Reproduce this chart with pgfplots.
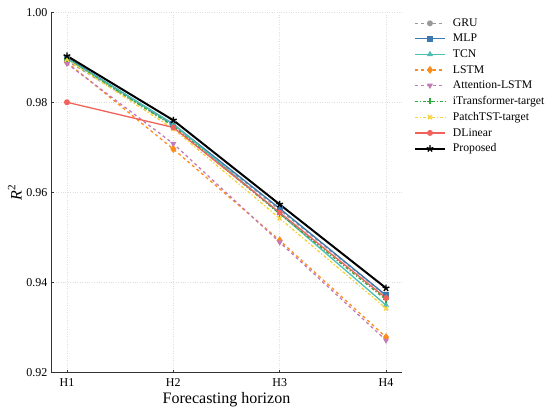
\documentclass[border=0pt]{standalone}
\usepackage{pgfplots}
\pgfplotsset{compat=1.18}
\usepackage{fontspec}
\setmainfont{Liberation Serif}
\definecolor{cGRU}{HTML}{999999}
\definecolor{cMLP}{HTML}{3D78B0}
\definecolor{cTCN}{HTML}{4DBEB5}
\definecolor{cLSTM}{HTML}{FF8C1A}
\definecolor{cATT}{HTML}{C27BB5}
\definecolor{cIT}{HTML}{2CA83C}
\definecolor{cPT}{HTML}{F7D13D}
\definecolor{cDL}{HTML}{F0625B}
\definecolor{spine}{HTML}{333333}
\begin{document}
\begin{tikzpicture}
\begin{axis}[
  scale only axis, width=351pt, height=360pt,
  xmin=-0.15, xmax=3.15, ymin=0.92, ymax=1.00,
  xtick={0,1,2,3}, xticklabels={H1,H2,H3,H4},
  ytick={0.92,0.94,0.96,0.98,1.00},
  yticklabel style={/pgf/number format/.cd,fixed,fixed zerofill,precision=2,assume math mode=true},
  scaled y ticks=false,
  axis x line*=bottom, axis y line*=left,
  axis line style={spine, line width=0.9pt, -},
  tick align=inside, major tick length=3pt,
  tick style={spine, line width=0.7pt},
  grid=major, grid style={dotted, black!13, line width=0.6pt},
  ticklabel style={font=\fontsize{12}{14}\selectfont},
  xticklabel style={yshift=-2pt},
  xlabel={Forecasting horizon}, ylabel={\textit{R}\textsuperscript{2}},
  label style={font=\fontsize{16}{18}\selectfont},
  xlabel style={yshift=1pt}, ylabel style={yshift=-2pt},
  legend style={at={(1.025,0.995)}, anchor=north west, draw=none, fill=none,
    font=\fontsize{11.7}{13}\selectfont, row sep=2.3pt, cells={anchor=west},
    /tikz/every odd column/.append style={column sep=5pt}},
  legend image code/.code={\draw[mark repeat=2,mark phase=2] plot coordinates {(0pt,0pt) (15pt,0pt) (30pt,0pt)};},
  every axis plot/.append style={line width=1.3pt, mark size=2.3pt},
]
\addplot[cGRU, dashed, mark=*, mark options={solid}] coordinates {(0,0.9893) (1,0.9750) (2,0.9562) (3,0.9371)};
\addlegendentry{GRU}
\addplot[cMLP, mark=square*, mark options={solid}] coordinates {(0,0.9900) (1,0.9752) (2,0.9565) (3,0.9372)};
\addlegendentry{MLP}
\addplot[cTCN, mark=triangle*, mark options={solid}] coordinates {(0,0.9898) (1,0.9753) (2,0.9554) (3,0.9350)};
\addlegendentry{TCN}
\addplot[cLSTM, dashed, mark=diamond*, mark size=3pt, mark options={solid}] coordinates {(0,0.9890) (1,0.9697) (2,0.9494) (3,0.9279)};
\addlegendentry{LSTM}
\addplot[cATT, dashed, mark=triangle*, mark options={solid, rotate=180}] coordinates {(0,0.9887) (1,0.9709) (2,0.9490) (3,0.9272)};
\addlegendentry{Attention-LSTM}
\addplot[cIT, dash dot, mark=+, mark size=2.8pt, mark options={solid, line width=1.3pt}] coordinates {(0,0.9897) (1,0.9748) (2,0.9553) (3,0.9362)};
\addlegendentry{iTransformer-target}
\addplot[cPT, dash dot, mark=x, mark size=2.8pt, mark options={solid, line width=1.5pt}] coordinates {(0,0.9896) (1,0.9742) (2,0.9543) (3,0.9343)};
\addlegendentry{PatchTST-target}
\addplot[cDL, mark=*, mark options={solid}] coordinates {(0,0.9801) (1,0.9745) (2,0.9556) (3,0.9366)};
\addlegendentry{DLinear}
\addplot[black, line width=2pt, mark=star, mark size=3.5pt, mark options={solid, line width=1.4pt}] coordinates {(0,0.9904) (1,0.9761) (2,0.9574) (3,0.9388)};
\addlegendentry{Proposed}
\end{axis}
\path[use as bounding box] (-51pt,-36.3pt) rectangle (499pt,372.7pt);
\end{tikzpicture}
\end{document}
